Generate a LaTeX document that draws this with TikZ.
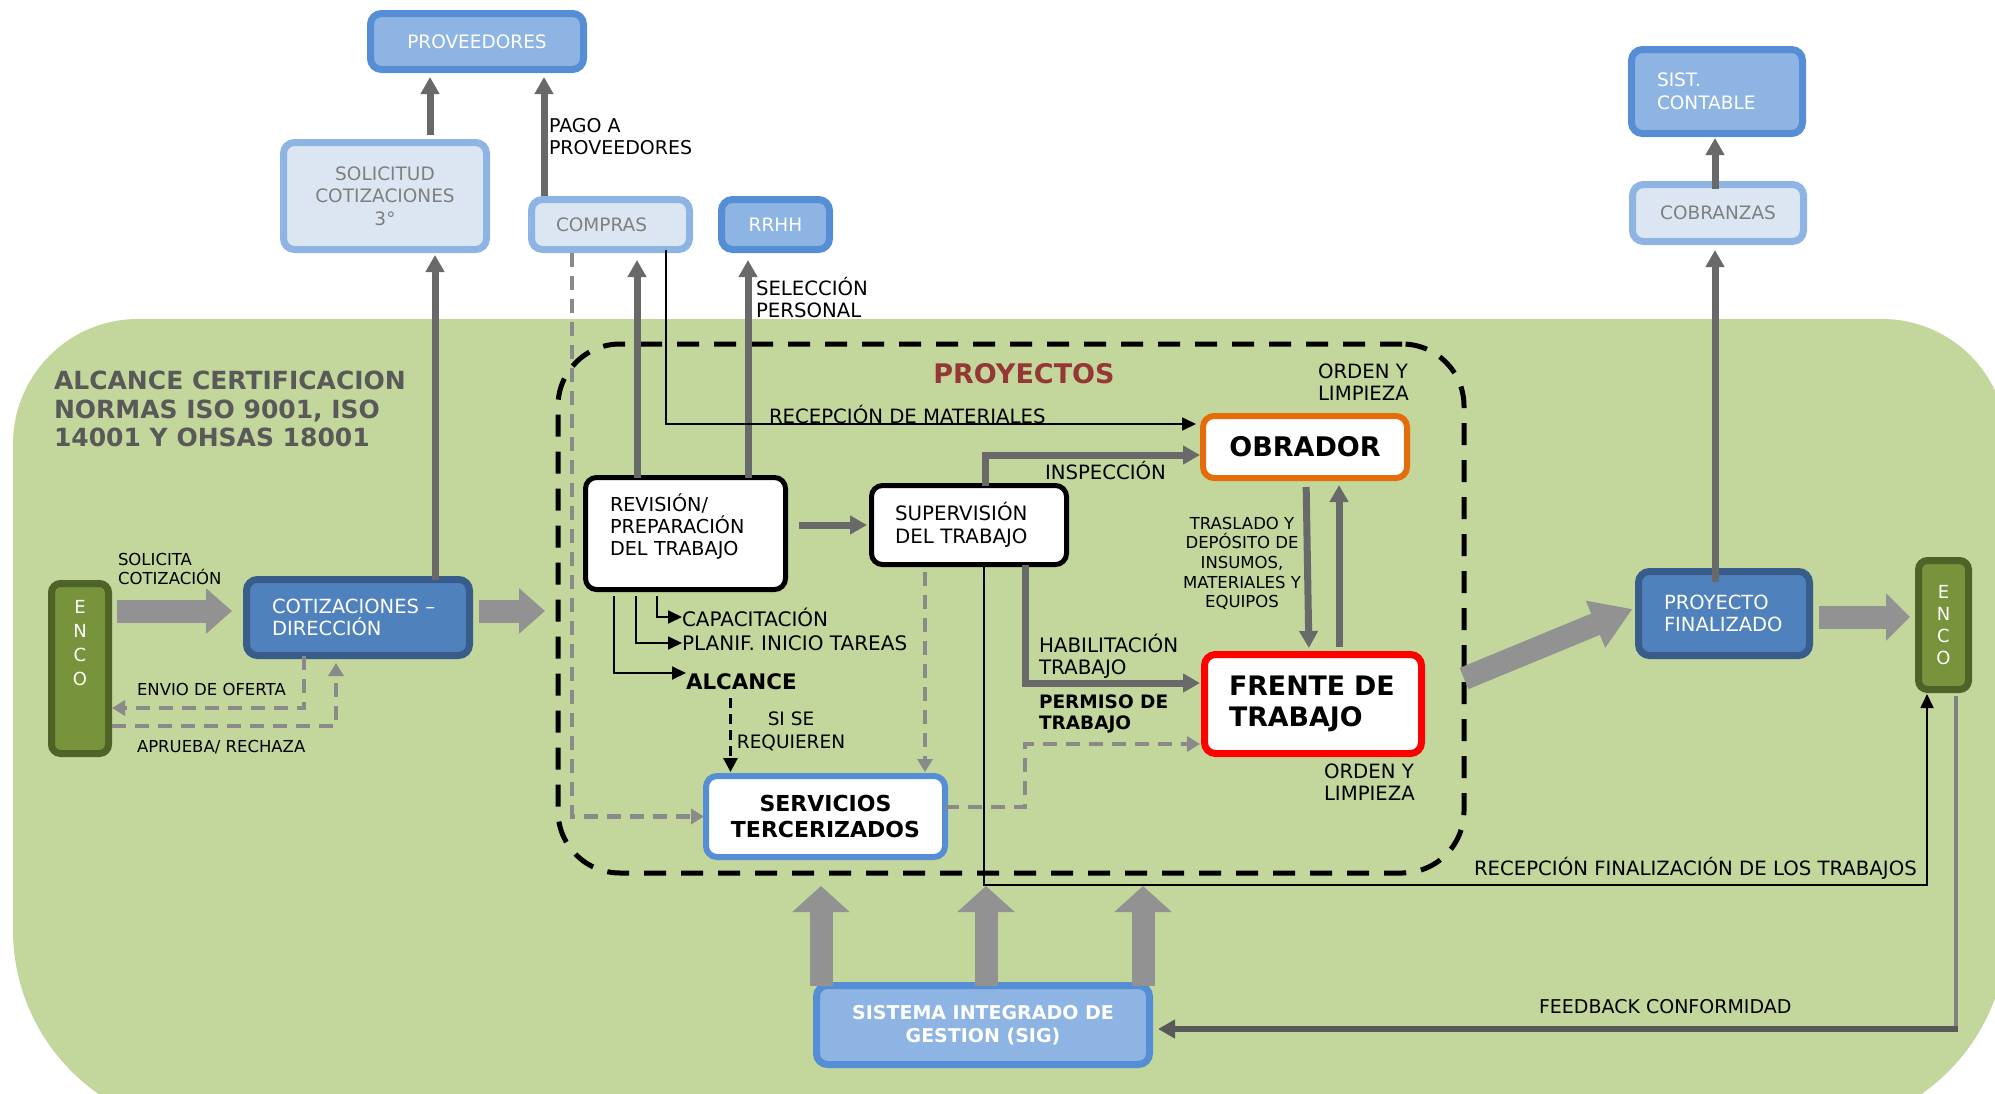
\documentclass[tikz,border=0pt]{standalone}
\usepackage{fontspec}
\setmainfont{DejaVu Sans}
\usetikzlibrary{arrows.meta,calc}
\definecolor{bggreen}{HTML}{C3D69B}
\definecolor{bluebd}{HTML}{558ED5}
\definecolor{bluefl}{HTML}{8EB4E3}
\definecolor{palefl}{HTML}{DCE6F2}
\definecolor{darkbd}{HTML}{385D8A}
\definecolor{darkfl}{HTML}{4F81BD}
\definecolor{encobd}{HTML}{4F6228}
\definecolor{encofl}{HTML}{77933C}
\definecolor{txtgray}{HTML}{7F7F7F}
\definecolor{arrgray}{HTML}{696969}
\definecolor{blkgray}{HTML}{929292}
\definecolor{dshgray}{HTML}{8A8A8A}
\definecolor{titgray}{HTML}{595959}
\definecolor{projred}{HTML}{953735}
\definecolor{obrorange}{HTML}{E46C0A}
\definecolor{fbgray}{HTML}{595959}
\definecolor{fbvgray}{HTML}{808080}
\newcommand{\myfs}[2]{\fontsize{#1}{#2}\selectfont}
\tikzset{
  box/.style={rounded corners=11pt, inner sep=0pt, outer sep=0pt, font=\myfs{18.5}{22.5}},
  bluebox/.style={box, draw=bluebd, fill=bluefl, line width=7pt, text=white},
  palebox/.style={box, draw=bluefl, fill=palefl, line width=7pt, text=txtgray},
  darkbox/.style={box, draw=darkbd, fill=darkfl, line width=7pt, text=white},
  encobox/.style={box, rounded corners=9pt, draw=encobd, fill=encofl, line width=7pt, text=white},
  whitebox/.style={box, draw=black, fill=white, line width=5pt, text=black},
  lbl/.style={inner sep=0pt, outer sep=0pt, align=left, anchor=west, font=\myfs{19.7}{22}},
  smalllbl/.style={lbl, font=\myfs{16.5}{19.7}},
  garrow/.style={draw=arrgray, line width=7pt, -{Triangle[width=18pt,length=17pt]}},
  tarrow/.style={draw=black, line width=1.8pt, -{Triangle[width=13pt,length=14pt]}},
  darrow/.style={draw=dshgray, line width=4.5pt, dash pattern=on 14pt off 9pt, -{Triangle[width=15pt,length=13pt]}},
  barrow/.style={draw=blkgray, line width=23pt, -{Triangle[width=44pt,length=26pt]}},
}
\begin{document}
\begin{tikzpicture}[x=1pt,y=-1pt]
\useasboundingbox (0,0) rectangle (1995,1093);
% green background region
\fill[bggreen, rounded corners=125pt] (13,700) |- (1000,319) -| (2007,700)
  [rounded corners=200pt] |- (1000,1130) -| (13,700) -- cycle;

% dashed project frame
\node[draw=black, line width=5pt, dash pattern=on 22pt off 15pt, rounded corners=62pt,
      minimum width=906pt, minimum height=529pt, inner sep=0pt, outer sep=0pt] (proj) at (1011,608.5) {};

% title
\node[lbl, font=\bfseries\myfs{25}{28.5}, text=titgray] (title) at (54,409)
  {ALCANCE CERTIFICACION\\NORMAS ISO 9001, ISO\\14001 Y OHSAS 18001};
\node[inner sep=0pt, font=\bfseries\myfs{27}{30}, text=projred] (projt) at (1024,374) {PROYECTOS};

% boxes
\node[bluebox, minimum width=213pt, minimum height=56pt] (prov) at (477,41.5) {PROVEEDORES};
\node[palebox, minimum width=203pt, minimum height=107pt, align=center] (sol) at (385,196) {SOLICITUD\\COTIZACIONES\\3°};
\node[palebox, minimum width=158pt, minimum height=50pt, text width=109pt, align=left] (comp) at (610.5,224.5) {COMPRAS};
\node[bluebox, minimum width=108pt, minimum height=50pt] (rrhh) at (775.5,224.5) {RRHH};
\node[bluebox, minimum width=171pt, minimum height=84pt, text width=120pt, align=left] (sist) at (1717,91.5) {SIST.\\CONTABLE};
\node[palebox, minimum width=171pt, minimum height=57pt] (cob) at (1718,213) {COBRANZAS};
\node[encobox, minimum width=57pt, minimum height=170pt] (enco1) at (80,668.5) {};
\node[inner sep=0pt, align=center, text=white, font=\myfs{18}{24}] (enco1t) at (80,643) {E\\N\\C\\O};
\node[darkbox, minimum width=223pt, minimum height=76pt, text width=172pt, align=left, font=\myfs{19.5}{22.5}] (cot) at (358,617.5) {COTIZACIONES –\\DIRECCIÓN};
\node[whitebox, minimum width=200pt, minimum height=112pt] (rev) at (685.5,533.5) {};
\node[inner sep=0pt, text width=151pt, align=left, font=\myfs{19.2}{22}] (revt) at (685.5,527) {REVISIÓN/\\PREPARACIÓN\\DEL TRABAJO};
\node[whitebox, minimum width=195pt, minimum height=79pt, text width=148pt, align=left, font=\myfs{19.8}{22.5}] (sup) at (969,525) {SUPERVISIÓN\\DEL TRABAJO};
\node[whitebox, draw=obrorange, line width=6pt, minimum width=204pt, minimum height=62pt, font=\bfseries\myfs{27}{30}] (obr) at (1305,447) {OBRADOR};
\node[whitebox, draw=red, line width=7pt, minimum width=217pt, minimum height=99pt, text width=168pt, align=left, font=\bfseries\myfs{26.8}{31}] (fre) at (1313,704) {FRENTE DE\\TRABAJO};
\node[whitebox, draw=bluebd, line width=6pt, minimum width=239pt, minimum height=81pt, align=center, font=\bfseries\myfs{22}{26}] (serv) at (825.5,816.5) {SERVICIOS\\TERCERIZADOS};
\node[darkbox, minimum width=171pt, minimum height=84pt, text width=120pt, align=left, font=\myfs{19.5}{22.5}] (pf) at (1724,613.5) {PROYECTO\\FINALIZADO};
\node[encobox, minimum width=50pt, minimum height=129pt, align=center, font=\myfs{18}{22}] (enco2) at (1943.5,625) {E\\N\\C\\O};
\node[bluebox, minimum width=333pt, minimum height=79pt, align=center, font=\bfseries\myfs{19}{23}] (sig) at (983,1025) {SISTEMA INTEGRADO DE\\GESTION (SIG)};

% labels
\node[lbl, font=\myfs{19}{22}] (pago) at (549,137) {PAGO A\\PROVEEDORES};
\node[lbl] (selec) at (756,297.5) {SELECCIÓN\\PERSONAL};
\node[lbl] (recmat) at (769,414) {RECEPCIÓN DE MATERIALES};
\node[lbl] (insp) at (1045,470) {INSPECCIÓN};
\node[lbl] (orden1) at (1318,382.5) {ORDEN Y\\LIMPIEZA};
\node[lbl] (orden2) at (1324,782) {ORDEN Y\\LIMPIEZA};
\node[smalllbl, align=center, anchor=center] (trasl) at (1242,563.5) {TRASLADO Y\\DEPÓSITO DE\\INSUMOS,\\MATERIALES Y\\EQUIPOS};
\node[lbl, font=\myfs{19.9}{22.5}] (habil) at (1039,656.5) {HABILITACIÓN\\TRABAJO};
\node[lbl, font=\bfseries\myfs{18.5}{21}] (perm) at (1039,713.5) {PERMISO DE\\TRABAJO};
\node[lbl, font=\myfs{20}{22}] (capac) at (682,617) {CAPACITACIÓN};
\node[lbl, font=\myfs{20}{22}] (planif) at (682,643) {PLANIF. INICIO TAREAS};
\node[lbl, font=\bfseries\myfs{21.4}{24}] (alc) at (686,682) {ALCANCE};
\node[lbl, align=center, anchor=center, font=\myfs{18.5}{22.5}] (sise) at (791,731.5) {SI SE\\REQUIEREN};
\node[smalllbl] (solic) at (118,569) {SOLICITA\\COTIZACIÓN};
\node[smalllbl] (envio) at (137,689) {ENVIO DE OFERTA};
\node[smalllbl] (aprueba) at (137,747) {APRUEBA/ RECHAZA};
\node[lbl] (recfinl) at (1474,868) {RECEPCIÓN FINALIZACIÓN DE LOS TRABAJOS};
\node[lbl, font=\myfs{19}{22}] (feedl) at (1539,1007) {FEEDBACK CONFORMIDAD};

% helper coordinates
\coordinate (sfc) at (1025,744);
\coordinate (recfin) at (1927,885);
\coordinate (fbc) at (1956,1029);

% block arrows
\draw[barrow, shorten <=8.5pt, shorten >=14.5pt] ([yshift=6.5pt]cot.west -| enco1.east) -- ([yshift=6.5pt]cot.west);
\draw[barrow, shorten <=9.5pt, shorten >=13pt] ([yshift=6.5pt]cot.east) -- ([yshift=6.5pt]cot.east -| proj.west);
\draw[barrow, -{Triangle[width=48pt,length=40pt]}, shorten >=6.5pt] ([yshift=-70pt]proj.east) -- ([yshift=7pt]pf.west);
\draw[barrow, -{Triangle[width=46pt,length=24pt]}, shorten <=9.5pt, shorten >=8.5pt] ([yshift=-3.5pt]pf.east) -- ([yshift=-3.5pt]pf.east -| enco2.west);
\foreach \dx in {-162,3,160}{
  \draw[barrow, -{Triangle[width=56pt,length=26pt]}, shorten >=13pt] ([xshift=\dx pt]sig.north) -- ([xshift=\dx pt]sig.north |- proj.south);
}

% thick gray arrows
\draw[garrow, shorten <=7.5pt, shorten >=7.5pt] ([xshift=45pt]sol.north) -- ([xshift=45pt]sol.north |- prov.south);
\draw[garrow, shorten <=4pt, shorten >=7.5pt] ([xshift=-66.5pt]comp.north) -- ([xshift=-66.5pt]comp.north |- prov.south);
\draw[garrow, shorten >=10.5pt] ([xshift=-48.5pt]rev.north) -- ([xshift=-48.5pt]rev.north |- comp.south);
\draw[garrow, shorten >=10.5pt] ([xshift=62.5pt]rev.north) -- ([xshift=62.5pt]rev.north |- rrhh.south);
\draw[garrow, shorten >=5.5pt] ([xshift=77pt]cot.north) -- ([xshift=77pt]cot.north |- sol.south);
\draw[garrow, shorten <=-10pt, shorten >=8.5pt] ([xshift=-9pt]pf.north) -- ([xshift=-9pt]pf.north |- cob.south);
\draw[garrow, shorten <=-4pt, shorten >=4.5pt] ([xshift=-3pt]cob.north) -- ([xshift=-3pt]cob.north |- sist.south);
\draw[garrow, shorten <=13.5pt, shorten >=4.5pt] (rev.east |- sup.west) -- (sup.west);
\draw[garrow, shorten >=3pt] ([xshift=16pt]sup.north) |- ([yshift=-8pt]obr.west);
\draw[garrow, shorten >=4.5pt] ([xshift=56pt]sup.south) |- ([yshift=21pt]fre.west);
\draw[garrow, shorten <=9pt, shorten >=6.5pt] ([xshift=1pt]obr.south) -- ([xshift=-4pt]fre.north);
\draw[garrow, shorten <=7.5pt, shorten >=7pt] ([xshift=26pt]fre.north) -- ([xshift=26pt]fre.north |- obr.south);

% thin black arrows
\draw[tarrow, shorten >=7pt] ([xshift=55.5pt]comp.south) |- ([yshift=23pt]obr.west);
\draw[tarrow, shorten <=6.5pt] ([xshift=-28.5pt]rev.south) |- (capac.west);
\draw[tarrow, shorten <=6.5pt] ([xshift=-49.5pt]rev.south) |- (planif.west);
\draw[tarrow, shorten <=6.5pt] ([xshift=-71.5pt]rev.south) |- ([yshift=9pt]alc.west);
\draw[draw=black, line width=3pt, dash pattern=on 10pt off 6pt, -{Triangle[width=14pt,length=14pt]}, shorten <=8pt, shorten >=4pt]
  ([xshift=-95pt]serv.north |- alc.south) -- ([xshift=-95pt]serv.north);
\draw[tarrow, shorten >=4.5pt] ([xshift=15pt]sup.south) |- (recfin) -- ([xshift=-16.5pt]enco2.south);

% dashed gray arrows
\draw[darrow, shorten >=3.5pt] ([xshift=-54pt]cot.south) |- ([yshift=-39.5pt]enco1.east);
\draw[darrow, shorten <=3.5pt, shorten >=7.5pt] ([yshift=-57.5pt]enco1.east) -| ([xshift=-22pt]cot.south);
\draw[darrow, shorten <=7.5pt, shorten >=4pt] ([xshift=-44pt]sup.south) -- ([xshift=-44pt]sup.south |- serv.north);
\draw[darrow, shorten <=3.5pt, shorten >=2pt] ([xshift=-38.5pt]comp.south) |- (serv.west);
\draw[darrow, shorten >=4.5pt] ([yshift=9.5pt]serv.east) -| (sfc) -- ([yshift=-40pt]fre.west);

% feedback
\draw[draw=fbvgray, line width=4.5pt, shorten <=6.5pt] ([xshift=12.5pt]enco2.south) -- ([yshift=-2pt]fbc);
\draw[draw=fbgray, line width=6pt, -{Triangle[width=18pt,length=17pt]}, shorten >=8.5pt] ([xshift=2pt]fbc) -- ([yshift=-4pt]sig.east);
\end{tikzpicture}
\end{document}
